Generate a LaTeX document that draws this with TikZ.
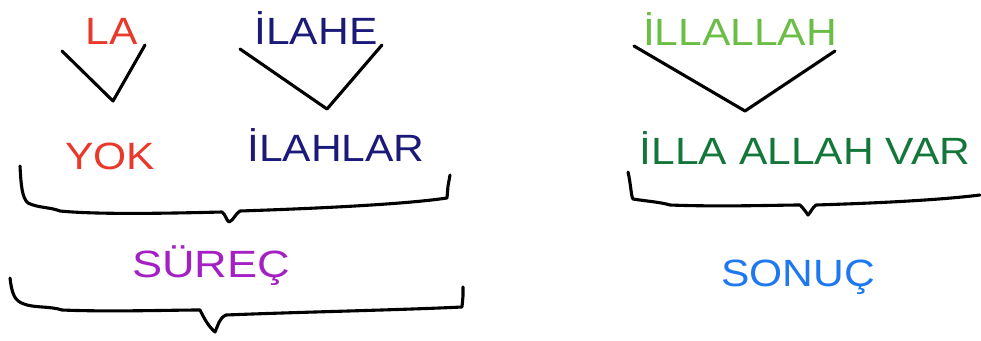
\documentclass[tikz,border=0pt]{standalone}
\usepackage{fontspec}
\setmainfont{Liberation Sans}[FakeStretch=1.12]
\definecolor{cred}{HTML}{E8392B}
\definecolor{cnavy}{HTML}{1B1A78}
\definecolor{clgreen}{HTML}{6BBE45}
\definecolor{cdgreen}{HTML}{14773A}
\definecolor{cpurple}{HTML}{A41FC4}
\definecolor{cblue}{HTML}{1E78F0}
\tikzset{
  lbl/.style={inner sep=0pt, font=\fontsize{38}{40}\selectfont},
  ink/.style={line width=3.1pt, line cap=round, line join=round, black}
}
\begin{document}
\begin{tikzpicture}[x=1pt,y=-1pt]
\useasboundingbox (0,0) rectangle (981,340);
% labels
\node[lbl, text=cred] (la) at (112,31) {LA};
\node[lbl, text=cnavy] (ilahe) at (316,28) {İLAHE};
\node[lbl, text=cred] (yok) at (110,156) {YOK};
\node[lbl, text=cnavy] (ilahlar) at (336,145) {İLAHLAR};
\node[lbl, text=cpurple, xscale=1.06] (surec) at (211,266) {SÜREÇ};
\node[lbl, text=clgreen] (illallah) at (740,29) {İLLALLAH};
\node[lbl, text=cdgreen] (illavar) at (805,148) {İLLA ALLAH VAR};
\node[lbl, text=cblue] (sonuc) at (798,277) {SONUÇ};
% V marks
\draw[ink] (62,51) -- (113,101) -- (145,45);
\draw[ink] (240,49) -- (327,109) -- (382,45);
\draw[ink] (634,46) -- (745,111) -- (835,51);
% brace 1
\draw[ink] (20,166) .. controls (21,185) and (22,198) .. (28,203)
  .. controls (38,208) and (50,207) .. (60,211)
  .. controls (100,215) and (180,213) .. (222,212)
  .. controls (226,215) and (226,220) .. (229,222)
  .. controls (234,220) and (235,214) .. (240,211)
  .. controls (300,209) and (400,205) .. (447,198)
  -- (448,186) -- (450,175);
% brace 2
\draw[ink] (10,278) .. controls (12,295) and (15,301) .. (24,304)
  .. controls (34,308) and (50,306) .. (62,310)
  .. controls (110,312) and (170,310) .. (200,310)
  .. controls (204,318) and (208,326) .. (215,332)
  .. controls (218,326) and (219,318) .. (226,315)
  .. controls (300,312) and (400,310) .. (462,307)
  -- (463,296) -- (463,287);
% brace 3
\draw[ink] (628,172) .. controls (631,185) and (631,196) .. (633,199)
  .. controls (645,201) and (660,202) .. (670,205)
  .. controls (720,207) and (780,205) .. (800,205)
  .. controls (803,208) and (806,212) .. (808,215)
  .. controls (811,212) and (812,208) .. (816,205)
  .. controls (880,203) and (940,200) .. (980,195);
\end{tikzpicture}
\end{document}
